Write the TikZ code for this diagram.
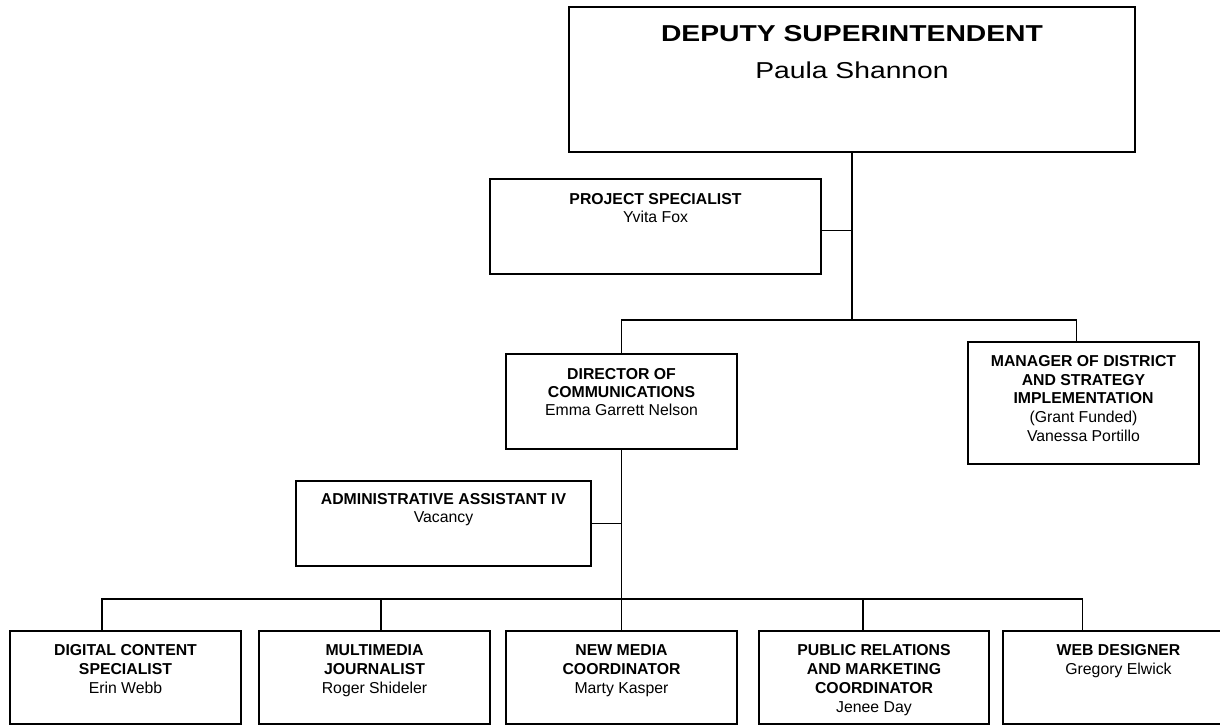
\documentclass[tikz,border=0pt]{standalone}
\usepackage{fontspec}
\setmainfont{Liberation Sans}
\newfontfamily\widefont[FakeStretch=1.23]{Liberation Sans}
\newcommand\boxlines[2]{\vtop{\baselineskip=#1\relax\halign{\hfil##\hfil\cr#2\crcr}}}
\tikzset{
  orgbox/.style={draw, line width=1.6pt, inner sep=0pt, fill=white},
  conn/.style={draw, line width=1.6pt},
  txt/.style={anchor=base, inner sep=0pt, font=\fontsize{15.8}{18.5}\selectfont},
}
\begin{document}
\begin{tikzpicture}[x=1pt,y=-1pt]
\useasboundingbox (0,0) rectangle (1220,726);
\clip (0,0) rectangle (1220,726);
\fill[white] (0,0) rectangle (1220,726);

% boxes
\node[orgbox, minimum width=566pt, minimum height=145pt] (top) at (852,79.5) {};
\node[orgbox, minimum width=331pt, minimum height=95pt] (ps) at (655.5,226.5) {};
\node[orgbox, minimum width=231pt, minimum height=95pt] (dir) at (621.5,401.5) {};
\node[orgbox, minimum width=231pt, minimum height=122pt] (mgr) at (1083.5,403) {};
\node[orgbox, minimum width=295pt, minimum height=85pt] (adm) at (443.5,523.5) {};
\node[orgbox, minimum width=231pt, minimum height=93pt] (b1) at (125.5,677.5) {};
\node[orgbox, minimum width=231pt, minimum height=93pt] (b2) at (374.5,677.5) {};
\node[orgbox, minimum width=231pt, minimum height=93pt] (b3) at (621.5,677.5) {};
\node[orgbox, minimum width=230pt, minimum height=93pt] (b4) at (874,677.5) {};
\node[orgbox, minimum width=231pt, minimum height=93pt] (b5) at (1118.5,677.5) {};

% helper coordinates
\coordinate (barY) at (0,320);
\coordinate (barB) at (0,599);
\coordinate (psc) at ([yshift=-4pt]ps.east);
\coordinate (mgrc) at ([xshift=-7pt]mgr.north);
\coordinate (d1) at ([xshift=-23.5pt]b1.north);
\coordinate (d2) at ([xshift=6.5pt]b2.north);
\coordinate (d4) at ([xshift=-11pt]b4.north);
\coordinate (d5) at ([xshift=-36pt]b5.north);

% connectors
\draw[conn] (top.south) -- (top.south |- barY);
\draw[conn] (psc) -- (psc -| top.south);
\draw[conn] (dir.north) |- (mgrc |- barY) -- (mgrc);
\draw[conn] (dir.south) -- (b3.north);
\draw[conn] (adm.east) -- (adm.east -| dir.south);
\draw[conn] (d1) |- (d5 |- barB) -- (d5);
\draw[conn] (d2) -- (d2 |- barB);
\draw[conn] (d4) -- (d4 |- barB);

% texts
\node[anchor=base, inner sep=0pt] (ttop) at ([yshift=-35pt]top.north)
  {\widefont\fontsize{23}{37}\selectfont\boxlines{37pt}{\bfseries DEPUTY SUPERINTENDENT\cr Paula Shannon}};
\node[txt] (tps) at ([yshift=-26pt]ps.north)
  {\boxlines{18pt}{\bfseries PROJECT SPECIALIST\cr Yvita Fox}};
\node[txt] (tdir) at ([yshift=-26pt]dir.north)
  {\boxlines{18pt}{\bfseries DIRECTOR OF\cr \bfseries COMMUNICATIONS\cr Emma Garrett Nelson}};
\node[txt] (tmgr) at ([yshift=-25pt]mgr.north)
  {\boxlines{18.8pt}{\bfseries MANAGER OF DISTRICT\cr \bfseries AND STRATEGY\cr \bfseries IMPLEMENTATION\cr (Grant Funded)\cr Vanessa Portillo}};
\node[txt] (tadm) at ([yshift=-24pt]adm.north)
  {\boxlines{18pt}{\bfseries ADMINISTRATIVE ASSISTANT IV\cr Vacancy}};
\node[txt] (tb1) at ([yshift=-25pt]b1.north)
  {\boxlines{19pt}{\bfseries DIGITAL CONTENT\cr \bfseries SPECIALIST\cr Erin Webb}};
\node[txt] (tb2) at ([yshift=-25pt]b2.north)
  {\boxlines{19pt}{\bfseries MULTIMEDIA\cr \bfseries JOURNALIST\cr Roger Shideler}};
\node[txt] (tb3) at ([yshift=-25pt]b3.north)
  {\boxlines{19pt}{\bfseries NEW MEDIA\cr \bfseries COORDINATOR\cr Marty Kasper}};
\node[txt] (tb4) at ([yshift=-25pt]b4.north)
  {\boxlines{19pt}{\bfseries PUBLIC RELATIONS\cr \bfseries AND MARKETING\cr \bfseries COORDINATOR\cr Jenee Day}};
\node[txt] (tb5) at ([yshift=-25pt]b5.north)
  {\boxlines{19pt}{\bfseries WEB DESIGNER\cr Gregory Elwick}};
\end{tikzpicture}
\end{document}
